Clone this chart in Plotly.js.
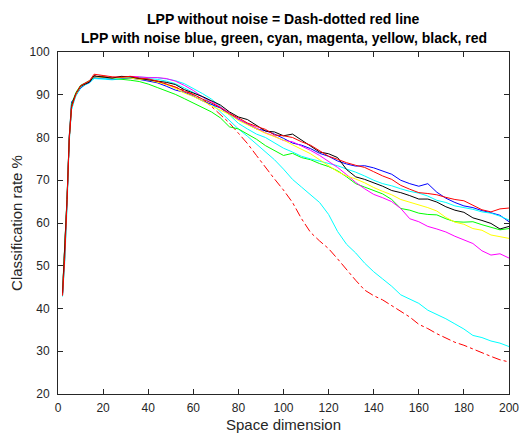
<!DOCTYPE html>
<html><head><meta charset="utf-8">
<script src="https://cdn.plot.ly/plotly-3.0.1.min.js"></script>
<style>html,body{margin:0;padding:0;background:#fff}#chart{width:520px;height:437px}</style>
</head><body><div id="chart"></div>
<script>
const dims = [2,3,4,5,6,7,8,10,12,14,16,18,20,24,28,32,36,40,44,48,52,56,60,64,68,72,76,80,84,88,92,96,100,104,108,112,116,120,124,128,132,136,140,144,148,152,156,160,164,168,172,176,180,184,188,192,196,200];

const lppClean = [43,52.5,65,79.5,87,88.8,90.2,92,92.6,93.1,94.5,94.4,94.2,94,94.1,94.1,93.8,
  93.5,93,92.5,91.8,91,90,89,87.3,85.4,83.4,81,78.6,75.8,73,70.3,67.7,64.8,61,
  57.8,55.8,54,51.6,49,46.6,44.3,43,42,40.6,39.3,38,36.3,35.3,34.1,33.1,32.1,31.4,30.5,29.6,28.8,28,27.5];
const cyanLow = [42.8,51,63.5,79,86.5,88.5,89.8,91.5,92.3,92.8,93.8,93.7,93.6,93.5,93.7,93.9,94,
  93.8,93.6,93.2,92.6,91.6,90.5,89.5,88,86,84,82,80.3,78.4,76.5,74.8,72.6,70.2,68.4,
  66.7,64.8,62,58,55,53,50.6,48.6,46.9,45.2,43.2,42.2,41.2,39.6,38.6,37.6,36.4,35.2,33.7,33.2,32.4,31.9,31.1];
const blueN = [43.5,53,65.5,80,88.3,89,90,91.6,92.4,92.9,94,93.9,93.8,93.7,93.8,93.9,93.6,
  93.2,92.8,92,91.1,90.6,89.7,88.6,87.8,86.9,85.4,84.2,83,82,81.6,80.8,79.8,78.7,78.2,
  77.4,76.3,75.6,74.5,73.8,73.3,73.4,72.9,72.2,71.4,70,69.2,68.6,69.2,67.2,65.8,64.8,64,63.6,62.9,62.4,61.8,60.3];
const greenN = [44,54,66,80.5,87.8,89.2,90.6,92.2,92.8,93.3,94.3,94.2,94,93.8,93.6,93.4,93.1,
  92.5,91.7,90.9,90.1,89.1,88.1,87,86,84.6,82.5,82,80.8,79.6,78.1,77,75.8,76.3,75.3,
  74.8,73.9,73.2,72.2,70.8,69.2,68.4,67.6,66.8,65.5,63.4,63,62.3,62,61.9,61,60.3,60.2,60.3,59.6,59,58.4,58.7];
const cyanN = [43,52,65,80,86.5,88.5,90,91.8,92.5,93,93.8,93.9,93.8,93.7,93.9,94.1,94.1,
  94,94,93.7,93.3,92.6,91.5,90.3,89,87.3,85.3,83.3,82,80.8,80,78.8,77.5,76.6,75.6,
  75,74.5,74,73.4,72.6,71.9,71,70,69.2,68.7,68,67.4,67,66.3,65.3,64.8,64,63.6,63.2,62.6,62.3,61.6,60.7];
const magentaN = [43.5,53,65.5,80.5,87,88.8,90.2,92,92.7,93.1,94.3,94.2,94,94,94.2,94.3,94.2,
  94,94,93.8,93.2,92.2,91,89.5,88.4,87.2,85.8,84.2,83.3,82.2,81.1,80.3,79.3,79,78,
  77,75.8,74.5,73,71.3,69.5,68,66.7,65.9,65,63.4,61,60.3,59.2,58.6,57.9,56.9,56.1,55.2,53.5,52.5,52.8,51.8];
const yellowN = [43.5,53,65.5,80,87,88.8,90.1,91.9,92.6,93.1,94.2,94.2,94.1,93.9,94,93.9,93.6,
  93.5,93,92.4,91.5,90.4,89.6,88.6,87.4,86.4,85.4,84,83,82.1,81,80.2,79.4,78.3,77.2,
  76.2,74.8,73.4,72,71,70.3,69.4,68.3,67.4,66.6,65.5,64.9,64.2,63.6,62.8,61.3,60.2,59.7,58.7,58.3,57.2,56.8,56.4];
const blackN = [43.5,53,65.5,80,87.2,89,90.3,92,92.6,93,94.4,94.3,94.1,93.9,94.3,94.2,93.8,
  93.5,93.2,92.9,92.4,91.2,90.4,89.6,88.6,87.6,86,84.8,84.2,82.8,81.5,81.3,80.4,80.8,79.4,
  78.2,76.6,76.2,75.3,72.5,70.8,70.2,69.4,68.6,67.6,67.1,66.4,65.6,65.6,64.9,63.8,63,62.5,61.2,60.6,59.9,58.6,59.2];
const redN = [43,52,65,79.5,87,88.8,90.3,92.1,92.8,93.3,94.8,94.6,94.5,94.2,94.1,94.3,93.9,
  93.7,93.2,92.5,91.8,90.8,90.1,89,88.1,87,85.6,84.6,83.4,82.6,81.9,80.6,80.4,80,79,
  78.2,76.8,75.6,74.9,74.1,73.5,73,72,71,70.2,68.8,67.9,67.1,66.9,66.6,66,65.5,65.2,64.1,63.1,62.6,63.3,63.5];

const titleLine1 = 'LPP without noise = Dash-dotted red line';
const titleLine2 = 'LPP with noise blue, green, cyan, magenta, yellow, black, red';
const xTitle = 'Space dimension';
const yTitle = 'Classification rate %';

const series = [
  {y: lppClean, color:'#ff0000', dash:'dashdot'},
  {y: cyanLow, color:'#00ffff', dash:'solid'},
  {y: blueN, color:'#0000ff', dash:'solid'},
  {y: greenN, color:'#00ff00', dash:'solid'},
  {y: cyanN, color:'#00ffff', dash:'solid'},
  {y: magentaN, color:'#ff00ff', dash:'solid'},
  {y: yellowN, color:'#ffff00', dash:'solid'},
  {y: blackN, color:'#000000', dash:'solid'},
  {y: redN, color:'#ff0000', dash:'solid'}
];
const traces = series.map(s => ({
  x: dims, y: s.y, type:'scatter', mode:'lines', showlegend:false, hoverinfo:'skip',
  line:{color:s.color, width:1, dash:s.dash}
}));

const font = 'Liberation Sans, Arial, Helvetica, sans-serif';
const axisCommon = {
  showline:true, mirror:'ticks', linecolor:'#262626', linewidth:1,
  ticks:'inside', ticklen:5, tickcolor:'#262626', tickwidth:1,
  showgrid:false, zeroline:false,
  tickfont:{family:font, size:12, color:'#262626'}
};
const layout = {
  width:520, height:437,
  margin:{l:58, r:11, t:52, b:43},
  paper_bgcolor:'#ffffff', plot_bgcolor:'#ffffff',
  font:{family:font, color:'#262626'},
  xaxis: Object.assign({}, axisCommon, {range:[0,200], tick0:0, dtick:20, ticklabelstandoff:3,
    title:{text:xTitle, font:{family:font, size:15, color:'#262626'}, standoff:5}}),
  yaxis: Object.assign({}, axisCommon, {range:[20,100], tick0:20, dtick:10, ticklabelstandoff:5,
    title:{text:yTitle, font:{family:font, size:15, color:'#262626'}, standoff:3}}),
  annotations: [
    {text:'<b>'+titleLine1+'</b>', xref:'paper', yref:'paper', x:0.5, y:1.0965, xanchor:'center', yanchor:'middle', showarrow:false, font:{family:font, size:14, color:'#000000'}},
    {text:'<b>'+titleLine2+'</b>', xref:'paper', yref:'paper', x:0.5, y:1.0395, xanchor:'center', yanchor:'middle', showarrow:false, font:{family:font, size:14, color:'#000000'}}
  ]
};
Plotly.newPlot('chart', traces, layout, {staticPlot:true, displayModeBar:false});
</script>
</body></html>
